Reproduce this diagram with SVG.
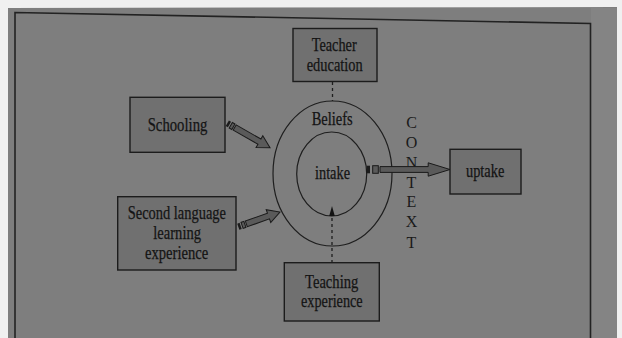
<svg xmlns="http://www.w3.org/2000/svg" width="622" height="338" viewBox="0 0 622 338">
  <defs>
    <style>
      .box { fill: #707070; stroke: #1c1c1c; stroke-width: 1.4; }
      .lbl { font-family: "Liberation Serif", "Times New Roman", serif; font-size: 18px; fill: #141414; stroke: #141414; stroke-width: 0.25; }
      .ctx { font-family: "Liberation Serif", "Times New Roman", serif; font-size: 16px; fill: #1a1a1a; text-anchor: middle; }
      .ring { fill: none; stroke: #1e1e1e; stroke-width: 1.2; }
      .dash { fill: none; stroke: #1e1e1e; stroke-width: 1.3; stroke-dasharray: 3 3; }
      .arw { fill: #5a5a5a; stroke: #1a1a1a; stroke-width: 1; stroke-linejoin: miter; }
      .stripe { fill: #1c1c1c; }
    </style>
  </defs>

  <!-- photo background -->
  <rect x="0" y="0" width="622" height="338" fill="#f0f0f0"/>
  <polygon points="8,8 617,7 617,338 8,338" fill="#7e7e7e"/>
  <rect x="591" y="8" width="26" height="330" fill="#848484"/>
  <!-- slide frame -->
  <g id="frame" fill="none" stroke="#222" stroke-width="1.6">
    <polyline points="15,338 15,12.5 590.5,23.5 590.5,338"/>
  </g>

  <!-- rings -->
  <g id="beliefs">
    <ellipse class="ring" cx="332.5" cy="173.5" rx="59.5" ry="72.5"/>
    <text class="lbl" x="311.7" y="125" textLength="41" lengthAdjust="spacingAndGlyphs">Beliefs</text>
  </g>
  <g id="intake">
    <ellipse class="ring" cx="331.7" cy="174" rx="35" ry="42"/>
    <text class="lbl" x="315" y="179" textLength="35" lengthAdjust="spacingAndGlyphs">intake</text>
  </g>

  <g id="context">
    <text class="ctx" x="411.5" y="128">C</text>
    <text class="ctx" x="411.5" y="148">O</text>
    <text class="ctx" x="411.5" y="168">N</text>
    <text class="ctx" x="411.5" y="188">T</text>
    <text class="ctx" x="411.5" y="207">E</text>
    <text class="ctx" x="411.5" y="227">X</text>
    <text class="ctx" x="411.5" y="248">T</text>
  </g>

  <g id="teacher-education">
    <rect class="box" x="293" y="28.5" width="84" height="53"/>
    <text class="lbl" x="311.7" y="51" textLength="45" lengthAdjust="spacingAndGlyphs">Teacher</text>
    <text class="lbl" x="306.7" y="71" textLength="56" lengthAdjust="spacingAndGlyphs">education</text>
  </g>
  <g id="schooling">
    <rect class="box" x="130" y="97.3" width="95" height="55"/>
    <text class="lbl" x="147.7" y="131" textLength="59.7" lengthAdjust="spacingAndGlyphs">Schooling</text>
  </g>
  <g id="second-language">
    <rect class="box" x="117.7" y="196.7" width="118.3" height="73.3"/>
    <text class="lbl" x="127.7" y="219" textLength="98.3" lengthAdjust="spacingAndGlyphs">Second language</text>
    <text class="lbl" x="153.3" y="239" textLength="47.7" lengthAdjust="spacingAndGlyphs">learning</text>
    <text class="lbl" x="145" y="259" textLength="63.3" lengthAdjust="spacingAndGlyphs">experience</text>
  </g>
  <g id="teaching-experience">
    <rect class="box" x="284.3" y="262.7" width="95" height="58.3"/>
    <text class="lbl" x="305" y="288" textLength="53.3" lengthAdjust="spacingAndGlyphs">Teaching</text>
    <text class="lbl" x="301" y="307" textLength="61.7" lengthAdjust="spacingAndGlyphs">experience</text>
  </g>
  <g id="uptake">
    <rect class="box" x="450" y="149.3" width="71" height="44.7"/>
    <text class="lbl" x="466" y="177" textLength="38.3" lengthAdjust="spacingAndGlyphs">uptake</text>
  </g>

  <g id="connectors">
    <!-- teacher education -> beliefs (dashed) -->
    <line class="dash" x1="332.5" y1="82" x2="332.5" y2="101"/>
    <!-- teaching experience -> intake (dashed with arrowhead) -->
    <line class="dash" x1="332" y1="263" x2="332" y2="215"/>
    <polygon points="332,206 329.2,216 334.8,216" fill="#141414"/>
    <!-- schooling -> beliefs striped arrow -->
    <g transform="translate(227.3,123.3) rotate(29.7)">
      <rect class="stripe" x="0" y="-3.2" width="2.5" height="6.4"/>
      <rect class="arw" x="4" y="-3.2" width="3" height="6.4"/>
      <polygon class="arw" points="8.5,-3 37,-3 37,-6.8 49.2,0 37,6.8 37,3 8.5,3"/>
    </g>
    <!-- second language -> beliefs striped arrow -->
    <g transform="translate(238.3,226.7) rotate(-19.4)">
      <rect class="stripe" x="0" y="-3.2" width="2.5" height="6.4"/>
      <rect class="arw" x="4" y="-3.2" width="3" height="6.4"/>
      <polygon class="arw" points="8.5,-3 32,-3 32,-6.8 44.2,0 32,6.8 32,3 8.5,3"/>
    </g>
    <!-- intake -> uptake striped arrow -->
    <g transform="translate(366.7,169.5)">
      <rect class="stripe" x="0" y="-3.8" width="3.3" height="7.6"/>
      <rect class="arw" x="6" y="-3.8" width="5.6" height="7.6"/>
      <polygon class="arw" points="13.3,-2.9 61.5,-2.9 61.5,-6.7 83.3,0 61.5,6.7 61.5,2.9 13.3,2.9"/>
    </g>
  </g>
</svg>
